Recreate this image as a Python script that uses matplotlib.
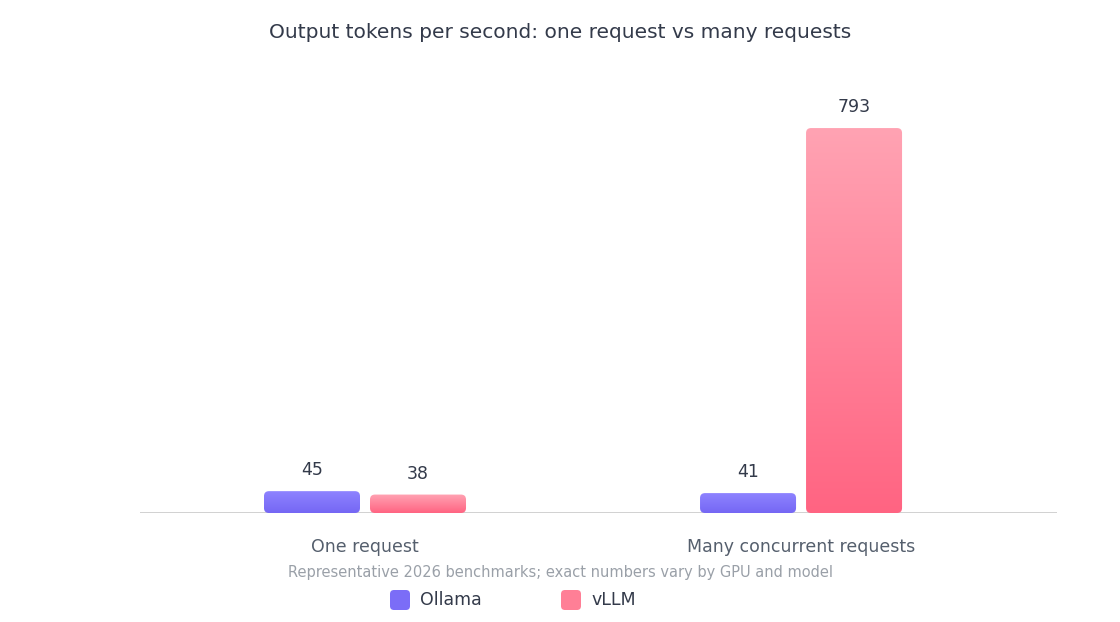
import numpy as np
import matplotlib.pyplot as plt
from matplotlib.patches import FancyBboxPatch
from matplotlib.colors import LinearSegmentedColormap

categories = ["One request", "Many concurrent requests"]
series = ["Ollama", "vLLM"]
ollama = [45, 41]
vllm = [38, 793]

W, H = 1120, 622
fig = plt.figure(figsize=(W / 100, H / 100), dpi=100)
# axes: x 140..1057 px, y baseline 513, top 80
ax = fig.add_axes([140 / W, 1 - 513 / H, 917 / W, 433 / H])
ymax = 892
ax.set_xlim(-0.516, 0.587 + 1)
ax.set_ylim(0, ymax)
for s in ax.spines.values():
    s.set_visible(False)
ax.set_xticks([])
ax.set_yticks([])
ax.axhline(0, color="#c9c9c9", lw=1.2, zorder=1)

xpx = 1 / 436
ypx = ymax / 433
aspect = ypx / xpx
width = 96 * xpx
off = 53 * xpx

cmaps = {
    "Ollama": LinearSegmentedColormap.from_list("o", ["#7567f4", "#8e83ff"]),
    "vLLM": LinearSegmentedColormap.from_list("v", ["#ff6482", "#ffa3b3"]),
}
grad = np.linspace(0, 1, 256).reshape(-1, 1)

for vals, name, sign in [(ollama, "Ollama", -1), (vllm, "vLLM", 1)]:
    for i, v in enumerate(vals):
        x0 = i + sign * off - width / 2
        patch = FancyBboxPatch((x0, 0), width, v,
                               boxstyle=f"round,pad=0,rounding_size={5 * xpx}",
                               mutation_aspect=aspect, fc="none", ec="none", zorder=2)
        ax.add_patch(patch)
        im = ax.imshow(grad, cmap=cmaps[name], origin="lower", aspect="auto",
                       extent=(x0, x0 + width, 0, v), zorder=2)
        im.set_clip_path(patch)
        ax.text(i + sign * off, v + 12 * ypx, str(v), ha="center", va="bottom",
                fontsize=12.5, color="#333a4a")

for i, c in enumerate(categories):
    ax.text(i, -34 * ypx, c, ha="center", va="center", fontsize=12.5, color="#555f6d")

fig.text(560 / W, 1 - 33 / H, "Output tokens per second: one request vs many requests",
         ha="center", va="center", fontsize=14.5, color="#333a4a")
fig.text(560 / W, 1 - 573 / H,
         "Representative 2026 benchmarks; exact numbers vary by GPU and model",
         ha="center", va="center", fontsize=10.5, color="#9aa0a8")

# legend
for name, mx, tx, col in [("Ollama", 390, 420, "#7b6df7"), ("vLLM", 561, 591, "#ff7f96")]:
    fig.patches.append(FancyBboxPatch((mx / W, 1 - 610 / H), 20 / W, 20 / H,
                                      boxstyle=f"round,pad=0,rounding_size={4 / W}",
                                      mutation_aspect=W / H, fc=col, ec="none",
                                      transform=fig.transFigure))
    fig.text(tx / W, 1 - 600 / H, name, ha="left", va="center", fontsize=12.5, color="#333a4a")

fig.savefig("out.png", dpi=100, facecolor="white")
